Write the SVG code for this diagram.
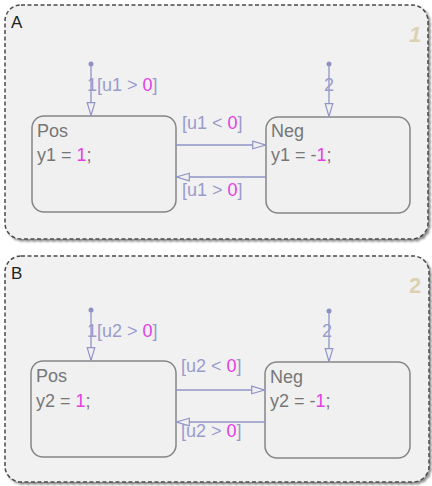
<svg xmlns="http://www.w3.org/2000/svg" width="432" height="486" viewBox="0 0 432 486">
<style>
.super{fill:#f1f1f1;stroke:#4a4a4a;stroke-width:1.5;stroke-dasharray:4,2.5}
.state{fill:#f0f0f0;stroke:#858585;stroke-width:1.5}
.t{font-family:"Liberation Sans",Arial,sans-serif;font-size:18px}
.name{fill:#777777}
.lbl{fill:#9a9ccc}
.num{fill:#e540e5}
.sup{font-family:"Liberation Sans",Arial,sans-serif;font-size:17px;fill:#222}
.ord{font-family:"Liberation Sans",Arial,sans-serif;font-size:22px;font-weight:bold;fill:#dcd2b2}
.tr{stroke:#9094c6;stroke-width:1.3;fill:none}
.dot{fill:#8e92c0}
</style>
<defs>
<filter id="sh" x="-5%" y="-5%" width="110%" height="110%">
<feDropShadow dx="2" dy="2" stdDeviation="1.2" flood-color="#000" flood-opacity="0.45"/>
</filter>
<marker id="ah" viewBox="0 0 14 10" refX="14" refY="5" markerWidth="14" markerHeight="10" markerUnits="userSpaceOnUse" orient="auto">
<path d="M0.7,1.2 L13.5,5 L0.7,8.8 Z" fill="#f0f0f0" stroke="#9094c6" stroke-width="1.2"/>
</marker>
</defs>
<rect width="432" height="486" fill="#ffffff"/>

<g id="A">
<rect class="super" x="5" y="5" width="423" height="234" rx="16" filter="url(#sh)"/>
<text class="sup" x="11" y="28">A</text>
<text class="ord" x="409" y="42" font-style="italic">1</text>
</g>

<g id="B">
<rect class="super" x="5" y="256" width="424" height="226" rx="16" filter="url(#sh)"/>
<text class="sup" x="11" y="279">B</text>
<text class="ord" x="409" y="293">2</text>
</g>

<g id="A_Pos">
<rect class="state" x="32" y="116" width="144" height="96" rx="12"/>
<text class="t name" x="37" y="137">Pos</text>
<text class="t name" x="37" y="161">y1 = <tspan class="num">1</tspan>;</text>
</g>

<g id="A_Neg">
<rect class="state" x="266" y="117" width="144" height="96" rx="12"/>
<text class="t name" x="271" y="137">Neg</text>
<text class="t name" x="271" y="161">y1 = -<tspan class="num">1</tspan>;</text>
</g>

<g id="B_Pos">
<rect class="state" x="31" y="361" width="145" height="96" rx="12"/>
<text class="t name" x="36" y="382">Pos</text>
<text class="t name" x="36" y="407">y2 = <tspan class="num">1</tspan>;</text>
</g>

<g id="B_Neg">
<rect class="state" x="265" y="362" width="145" height="96" rx="12"/>
<text class="t name" x="270" y="383">Neg</text>
<text class="t name" x="270" y="407">y2 = -<tspan class="num">1</tspan>;</text>
</g>

<g id="connectors">
<circle class="dot" cx="91" cy="64" r="2.5"/>
<line class="tr" x1="91" y1="64" x2="91" y2="116" marker-end="url(#ah)"/>
<text class="t lbl" x="87" y="91">1[u1 &gt; <tspan class="num">0</tspan>]</text>

<circle class="dot" cx="329" cy="64" r="2.5"/>
<line class="tr" x1="329" y1="64" x2="329" y2="117" marker-end="url(#ah)"/>
<text class="t lbl" x="324" y="91">2</text>

<line class="tr" x1="176" y1="145" x2="266" y2="145" marker-end="url(#ah)"/>
<text class="t lbl" x="182" y="129">[u1 &lt; <tspan class="num">0</tspan>]</text>
<line class="tr" x1="266" y1="177" x2="176" y2="177" marker-end="url(#ah)"/>
<text class="t lbl" x="182" y="196">[u1 &gt; <tspan class="num">0</tspan>]</text>

<circle class="dot" cx="91" cy="310" r="2.5"/>
<line class="tr" x1="91" y1="310" x2="91" y2="361" marker-end="url(#ah)"/>
<text class="t lbl" x="87" y="337">1[u2 &gt; <tspan class="num">0</tspan>]</text>

<circle class="dot" cx="329" cy="311" r="2.5"/>
<line class="tr" x1="329" y1="311" x2="329" y2="362" marker-end="url(#ah)"/>
<text class="t lbl" x="322" y="337">2</text>

<line class="tr" x1="176" y1="390" x2="265" y2="390" marker-end="url(#ah)"/>
<text class="t lbl" x="181" y="372">[u2 &lt; <tspan class="num">0</tspan>]</text>
<line class="tr" x1="265" y1="422" x2="176" y2="422" marker-end="url(#ah)"/>
<text class="t lbl" x="181" y="437">[u2 &gt; <tspan class="num">0</tspan>]</text>
</g>
</svg>
